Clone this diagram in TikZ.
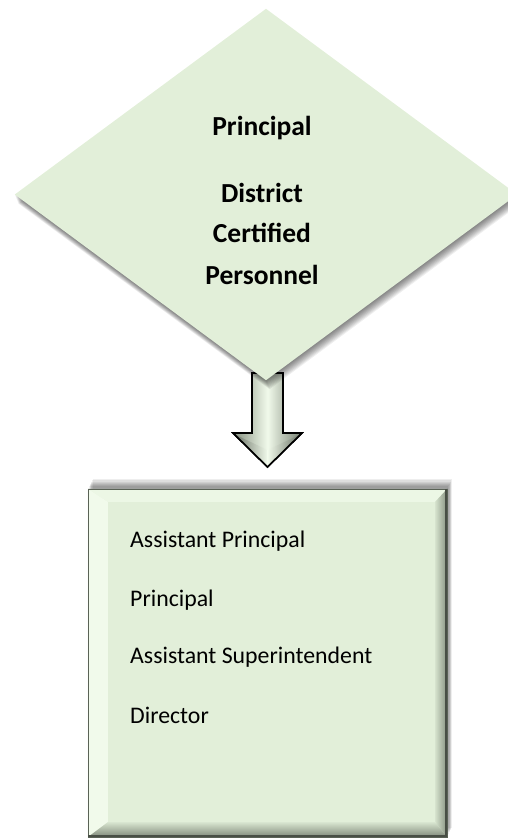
\documentclass[tikz,border=0pt]{standalone}
\usepackage{fontspec}
\setmainfont{Carlito}
\usetikzlibrary{shapes.geometric,calc}
\definecolor{leaf}{HTML}{E2EFD9}
\definecolor{leaflight}{HTML}{F1FAEB}
\definecolor{leafdark}{HTML}{A7B4A0}
\definecolor{edgedark}{HTML}{5A6256}
\tikzset{
  bigtext/.style={font=\bfseries\fontsize{27.5}{33}\selectfont, anchor=base, inner sep=0},
  listtext/.style={font=\fontsize{23.8}{28}\selectfont, anchor=base west, inner sep=0},
  shadowlayer/.style={fill=black, fill opacity=0.065, draw=none}
}
\begin{document}
\begin{tikzpicture}[x=1pt,y=-1pt]
\useasboundingbox (0,0) rectangle (508,839);
\clip (0,0) rectangle (508,839);

% ---------- block arrow (drawn first, diamond tip overlaps it)
\coordinate (sl) at (252,373);
\coordinate (sr) at (283,373);
\coordinate (tip) at (267.5,467);
\shadedraw[left color=leafdark!80!black, right color=leafdark!70!black, middle color=leaflight,
  draw=black, line width=1.6pt, line join=miter]
  (sl) -- (252,433) -- (233,433) -- (tip) -- (302,433) -- (283,433) -- (sr) -- cycle;
\shade[left color=leafdark!60!black, right color=leaflight, opacity=0.8]
  (235,434.5) -- (267.5,466) -- (267.5,450) -- cycle;
\shade[left color=leaflight, right color=leafdark!60!black, opacity=0.8]
  (300,434.5) -- (267.5,466) -- (267.5,450) -- cycle;
\draw[black, line width=1.6pt, line join=miter]
  (sl) -- (252,433) -- (233,433) -- (tip) -- (302,433) -- (283,433) -- (sr);

% ---------- diamond
\node[diamond, minimum width=502pt, minimum height=371pt, inner sep=0, draw=none] (dia) at (266,194.5) {};
\foreach \k in {1,...,9}{
  \fill[shadowlayer] ($(dia.north)+(0.4*\k,1.0*\k)$) -- ($(dia.east)+(0.4*\k,1.0*\k)$)
     -- ($(dia.south)+(0.4*\k,1.0*\k)$) -- ($(dia.west)+(0.4*\k,1.0*\k)$) -- cycle;
}
\fill[leaf] (dia.north) -- (dia.east) -- (dia.south) -- (dia.west) -- cycle;

\node[bigtext] (t1) at (262,135) {Principal};
\node[bigtext] (t2) at (262,202) {District};
\node[bigtext] (t3) at (262,242) {Certified};
\node[bigtext] (t4) at (262,284) {Personnel};

% ---------- bevelled box
\node[rectangle, minimum width=359pt, minimum height=348pt, inner sep=0, draw=none] (box) at (267.5,663) {};
\foreach \k in {1,...,8}{
  \fill[shadowlayer] ($(box.north west)+(0.6*\k,-1.2*\k)$) rectangle ($(box.south east)+(0.6*\k,-1.2*\k)$);
}
\coordinate (iw) at (108,502);
\coordinate (ie) at (435,822);
\fill[leaf] (box.north west) rectangle (box.south east);
% top bevel
\fill[leaflight!70!leaf] (box.north west) -- (box.north east) -- (ie |- iw) -- (iw) -- cycle;
% left bevel
\fill[leaflight] (box.north west) -- (iw) -- (iw |- ie) -- (box.south west) -- cycle;
% right bevel
\shade[left color=leaf!80!leafdark, right color=leafdark!80!black]
  (box.north east) -- (box.south east) -- (ie) -- (ie |- iw) -- cycle;
% bottom bevel
\shade[top color=leaf!85!leafdark, bottom color=leafdark!75!black]
  (box.south west) -- (iw |- ie) -- (ie) -- (box.south east) -- cycle;
\fill[leaf] (iw) rectangle (ie);
\draw[edgedark, line width=0.6pt] (box.north west) rectangle (box.south east);
\draw[edgedark!80!black, line width=2pt] ([xshift=-1pt]box.north east) -- ([xshift=-1pt,yshift=1pt]box.south east) -- ([yshift=1pt]box.south west);

\node[listtext] (l1) at (130,547) {Assistant Principal};
\node[listtext] (l2) at (130,606) {Principal};
\node[listtext] (l3) at (130,663) {Assistant Superintendent};
\node[listtext] (l4) at (130,723) {Director};
\end{tikzpicture}
\end{document}
